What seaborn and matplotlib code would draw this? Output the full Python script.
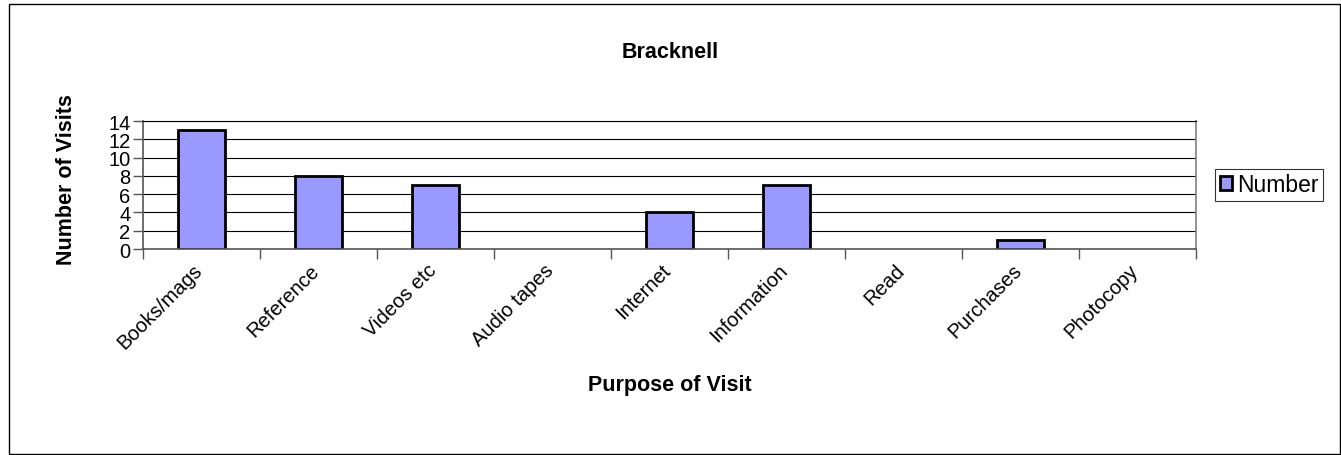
import numpy as np
import pandas as pd
import matplotlib
matplotlib.use("Agg")
import matplotlib.pyplot as plt
import matplotlib.transforms as mtransforms
import seaborn as sns
from matplotlib.patches import Rectangle

purposes = ["Books/mags", "Reference", "Videos etc", "Audio tapes", "Internet",
            "Information", "Read", "Purchases", "Photocopy"]
visits = [13, 8, 7, 0, 4, 7, 0, 1, 0]
y_ticks = [0, 2, 4, 6, 8, 10, 12, 14]

df = pd.DataFrame({"Purpose": purposes, "Number": visits})

sns.set_style("white")
plt.rcParams['font.family'] = ['Liberation Sans', 'DejaVu Sans']
plt.rcParams['text.color'] = 'black'
plt.rcParams['axes.labelcolor'] = 'black'
plt.rcParams['xtick.color'] = 'black'
plt.rcParams['ytick.color'] = 'black'

fig = plt.figure(figsize=(13.41, 4.56), dpi=100)
ax = fig.add_axes([143/1341, 1 - 250/456, (1196-143)/1341, (250-122)/456])

sns.barplot(data=df, x="Purpose", y="Number", color="#9999FF", width=0.4,
            edgecolor="black", linewidth=2, saturation=1, label="Number", ax=ax)

# Excel does not draw empty bars
for p in ax.patches:
    if p.get_height() == 0:
        p.set_linewidth(0)

ax.set_ylim(0, 14)
ax.set_xlim(-0.5, len(purposes) - 0.5)
ax.set_yticks(y_ticks)
ax.set_yticklabels([str(t) for t in y_ticks], fontsize=14.5)
ax.yaxis.grid(True, color="black", linewidth=0.8)
ax.set_axisbelow(True)
ax.tick_params(axis="y", length=7, width=1, color="#555555", pad=2, direction="out", left=True)

ax.set_xticks(range(len(purposes)))
ax.set_xticklabels(purposes, rotation=45, ha="right", va="center",
                   rotation_mode="anchor", fontsize=14.5)
ax.set_xticks(np.arange(-0.5, len(purposes)), minor=True)
ax.tick_params(axis="x", which="major", length=0, pad=13)
ax.tick_params(axis="x", which="minor", length=7, width=1, color="#555555", bottom=True)
shift = mtransforms.ScaledTranslation(-2/100, 0, fig.dpi_scale_trans)
for lbl in ax.get_xticklabels():
    lbl.set_transform(lbl.get_transform() + shift)

for s in ["left", "bottom"]:
    ax.spines[s].set_color("#555555")
    ax.spines[s].set_linewidth(1.2)
ax.spines["top"].set_color("black")
ax.spines["top"].set_linewidth(0.8)
ax.spines["right"].set_color("#808080")
ax.spines["right"].set_linewidth(1.2)

ax.set_xlabel("")
ax.set_ylabel("")
fig.text(670/1341, 1 - 386/456, "Purpose of Visit", ha="center", va="center",
         fontsize=15.5, fontweight="bold")
fig.text(66/1341, 1 - 180/456, "Number of Visits", ha="center", va="center",
         rotation=90, fontsize=15.5, fontweight="bold")
fig.text(670/1341, 1 - 52/456, "Bracknell", ha="center", va="center",
         fontsize=15.5, fontweight="bold")

leg = ax.legend(loc="center left", bbox_to_anchor=(1.018, 0.5), frameon=True,
                fancybox=False, edgecolor="black", fontsize=16.5,
                handlelength=0.55, handleheight=0.55, handletextpad=0.2,
                borderpad=0.2, borderaxespad=0)
leg.get_frame().set_linewidth(0.8)

fig.patches.append(Rectangle((9/1341, 1 - 455/456), 1331/1341, 450/456,
                             transform=fig.transFigure, fill=False,
                             edgecolor="black", linewidth=1))

fig.savefig("out.png", dpi=100)
